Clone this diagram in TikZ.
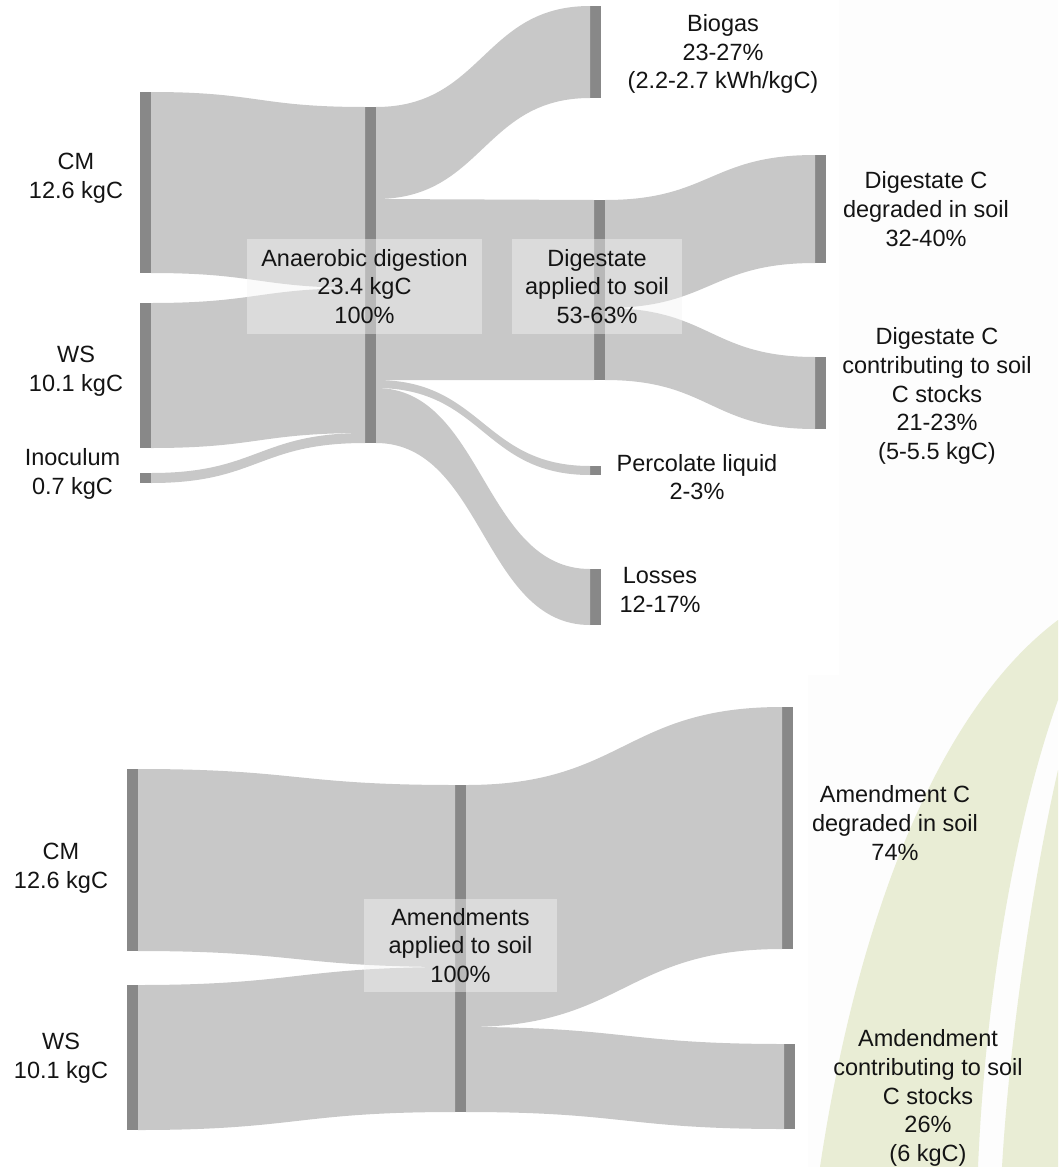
\documentclass[tikz,border=0pt]{standalone}
\usepackage{fontspec}
\setmainfont{Liberation Sans}
\usetikzlibrary{calc}
\definecolor{flowc}{HTML}{C8C8C8}
\definecolor{barc}{HTML}{888888}
\definecolor{leaf}{HTML}{E9EDD5}
\definecolor{offw}{HTML}{FDFDFD}
\definecolor{txt}{HTML}{141414}
\definecolor{boxc}{HTML}{F4F4F4}
% band: #1 source top, #2 source bottom, #3 target top, #4 target bottom
\newcommand\band[4]{%
  \fill[flowc] let \p1=(#1), \p2=(#2), \p3=(#3), \p4=(#4) in
    (\p1) .. controls ({0.5*\x1+0.5*\x3},\y1) and ({0.5*\x1+0.5*\x3},\y3) .. (\p3)
    -- (\p4) .. controls ({0.5*\x2+0.5*\x4},\y4) and ({0.5*\x2+0.5*\x4},\y2) .. (\p2) -- cycle;}
\begin{document}
\begin{tikzpicture}[x=1pt,y=-1pt,
  bar/.style={fill=barc, draw=none, inner sep=0pt, outer sep=0pt, anchor=north west, minimum width=11pt},
  lbl/.style={align=center, text=txt, inner sep=0pt, font=\fontsize{23.5}{28.7}\selectfont},
  lblbox/.style={lbl, fill=boxc, fill opacity=0.45, text opacity=1}]
\useasboundingbox (0,0) rectangle (1058,1167);
\fill[white] (0,0) rectangle (1058,1167);
% faint background panel
\fill[offw] (839,0) -- (1058,0) -- (1058,1167) -- (808,1167) -- (808,675) -- (839,675) -- cycle;
% leaf arcs
\fill[leaf] (820,1167) .. controls (857.5,917) and (938,710) .. (1058,620)
  -- (1058,700) .. controls (1015,820) and (985,1000) .. (978,1167) -- cycle;
\fill[leaf] (1002,1167) .. controls (1010,1030) and (1035,870) .. (1058,770) -- (1058,1167) -- cycle;

% ---------- top diagram bars ----------
\node[bar, minimum height=181pt] (cmA) at (140,92) {};
\node[bar, minimum height=145pt] (wsA) at (140,303) {};
\node[bar, minimum height=10pt] (inA) at (140,473) {};
\node[bar, minimum height=336pt] (adA) at (365,107) {};
\node[bar, minimum height=92pt] (bioA) at (590,6) {};
\node[bar, minimum height=180pt] (digA) at (594,200) {};
\node[bar, minimum height=9pt] (perA) at (590,466) {};
\node[bar, minimum height=56pt] (losA) at (590,569) {};
\node[bar, minimum height=108pt] (degA) at (815,155) {};
\node[bar, minimum height=72pt] (conA) at (815,357) {};

% ---------- top flows ----------
\band{cmA.north east}{cmA.south east}{adA.north west}{[yshift=-181pt]adA.north west}
\band{wsA.north east}{wsA.south east}{[yshift=-181pt]adA.north west}{[yshift=-326pt]adA.north west}
\band{inA.north east}{inA.south east}{[yshift=-326pt]adA.north west}{adA.south west}
\band{adA.north east}{[yshift=-92pt]adA.north east}{bioA.north west}{bioA.south west}
\band{[yshift=-92pt]adA.north east}{[yshift=-273pt]adA.north east}{digA.north west}{digA.south west}
\band{[yshift=-273pt]adA.north east}{[yshift=-281pt]adA.north east}{perA.north west}{perA.south west}
\band{[yshift=-281pt]adA.north east}{adA.south east}{losA.north west}{losA.south west}
\band{digA.north east}{[yshift=-108pt]digA.north east}{degA.north west}{degA.south west}
\band{[yshift=-108pt]digA.north east}{digA.south east}{conA.north west}{conA.south west}

% ---------- bottom diagram bars ----------
\node[bar, minimum height=182pt] (cmB) at (127,769) {};
\node[bar, minimum height=145pt] (wsB) at (127,985) {};
\node[bar, minimum height=327pt] (amB) at (455,785) {};
\node[bar, minimum height=242pt, minimum width=10.5pt] (degB) at (782,707) {};
\node[bar, minimum height=85pt] (conB) at (784,1044) {};

% ---------- bottom flows ----------
\band{cmB.north east}{cmB.south east}{amB.north west}{[yshift=-182pt]amB.north west}
\band{wsB.north east}{wsB.south east}{[yshift=-182pt]amB.north west}{amB.south west}
\band{amB.north east}{[yshift=-242pt]amB.north east}{degB.north west}{degB.south west}
\band{[yshift=-242pt]amB.north east}{amB.south east}{conB.north west}{conB.south west}

% ---------- labels top ----------
\node[lbl] (cmAl) at (76,178) {CM\\12.6 kgC};
\node[lbl] (wsAl) at (76,371) {WS\\10.1 kgC};
\node[lbl] (inAl) at (72.5,474) {Inoculum\\0.7 kgC};
\node[lbl] (bioAl) at (723,54) {Biogas\\23-27\%\\(2.2-2.7 kWh/kgC)};
\node[lbl] (degAl) at (926,209) {Digestate C\\degraded in soil\\32-40\%};
\node[lbl] (conAl) at (937,396) {Digestate C\\contributing to soil\\C stocks\\21-23\%\\(5-5.5 kgC)};
\node[lbl] (perAl) at (697,477) {Percolate liquid\\2-3\%};
\node[lbl] (losAl) at (660,590) {Losses\\12-17\%};
\node[lblbox, minimum width=235pt, minimum height=95pt] (adAl) at (364.5,286.5) {Anaerobic digestion\\23.4 kgC\\100\%};
\node[lblbox, minimum width=170pt, minimum height=95pt] (digAl) at (597,286.5) {Digestate\\applied to soil\\53-63\%};

% ---------- labels bottom ----------
\node[lbl] (cmBl) at (61,868) {CM\\12.6 kgC};
\node[lbl] (wsBl) at (61,1058) {WS\\10.1 kgC};
\node[lbl] (degBl) at (895,823) {Amendment C\\degraded in soil\\74\%};
\node[lbl] (conBl) at (928,1098) {Amdendment\\contributing to soil\\C stocks\\26\%\\(6 kgC)};
\node[lblbox, minimum width=193pt, minimum height=93pt] (amBl) at (460.5,945.5) {Amendments\\applied to soil\\100\%};
\end{tikzpicture}
\end{document}
